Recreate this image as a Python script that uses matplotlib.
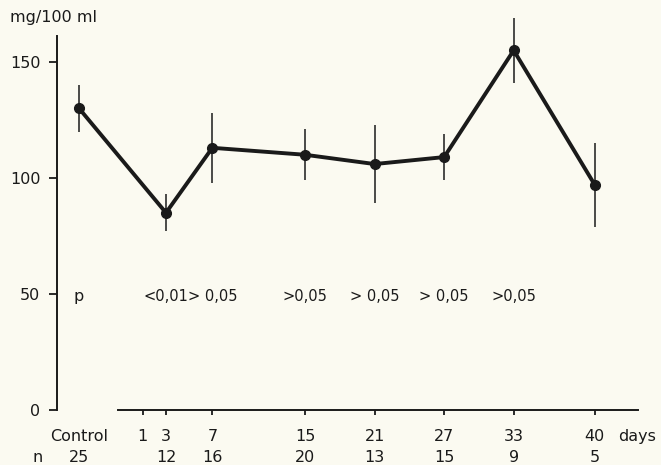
import matplotlib.pyplot as plt

# Serum level (mg/100 ml) over time after treatment, mean +/- SD
group_labels = ["Control", "3", "7", "15", "21", "27", "33", "40"]
day_values = [3, 7, 15, 21, 27, 33, 40]
control_mean = 130
control_sd = 10
means = [85, 113, 110, 106, 109, 155, 97]
sds = [8, 15, 11, 17, 10, 14, 18]
n_counts = ["25", "12", "16", "20", "13", "15", "9", "5"]
p_labels = ["<0,01", "> 0,05", ">0,05", "> 0,05", "> 0,05", ">0,05"]
axis_days = [1, 3, 7, 15, 21, 27, 33, 40]
y_ticks = [0, 50, 100, 150]

CONTROL_X = -4.5   # horizontal slot for the control group
YAXIS_X = -6.4
INK = "#1a1a1a"
BG = "#fbfaf1"

plt.rcParams["font.family"] = ["DejaVu Sans"]
FS = 11.5

fig = plt.figure(figsize=(6.61, 4.65), dpi=100, facecolor=BG)
ax = fig.add_axes([0, 0, 1, 1], facecolor=BG)
ax.set_xlim(-11.32, 45.71)
ax.set_ylim(-23.7, 176.7)

xs = [CONTROL_X] + day_values
ys = [control_mean] + means
es = [control_sd] + sds

ax.errorbar(xs, ys, yerr=es, fmt="none", ecolor=INK, elinewidth=1.1,
            capsize=0, zorder=2)
ax.plot(xs, ys, color=INK, lw=2.8, marker="o", ms=7, zorder=3,
        solid_joinstyle="round")

# axes
for s in ("top", "right"):
    ax.spines[s].set_visible(False)
ax.spines["left"].set_position(("data", YAXIS_X))
ax.spines["left"].set_bounds(0, 161)
ax.spines["left"].set_linewidth(1.4)
ax.spines["left"].set_color(INK)
ax.spines["bottom"].set_position(("data", 0))
ax.spines["bottom"].set_bounds(-1.15, 43.7)
ax.spines["bottom"].set_linewidth(1.4)
ax.spines["bottom"].set_color(INK)

ax.set_yticks(y_ticks)
ax.set_yticklabels([str(v) for v in y_ticks], fontsize=FS, color=INK)
ax.tick_params(axis="y", direction="out", length=6, width=1.3, pad=6,
               colors=INK)
ax.set_xticks(axis_days)
ax.set_xticklabels([])
ax.tick_params(axis="x", direction="out", length=3.5, width=1.3, colors=INK)

# day labels and group sizes
row_day = -11.3
row_n = -20.3
ax.text(CONTROL_X, row_day, "Control", ha="center", va="center",
        fontsize=FS, color=INK)
for d in axis_days:
    ax.text(d, row_day, str(d), ha="center", va="center", fontsize=FS,
            color=INK)
ax.text(42.0, row_day, "days", ha="left", va="center", fontsize=FS, color=INK)
ax.text(-8.1, row_n, "n", ha="center", va="center", fontsize=FS, color=INK)
for x, nv in zip(xs, n_counts):
    ax.text(x, row_n, nv, ha="center", va="center", fontsize=FS, color=INK)

# significance row
ax.text(CONTROL_X, 49, "p", ha="center", va="center", fontsize=FS, color=INK)
for d, p in zip(day_values[:-1], p_labels):
    ax.text(d, 49, p, ha="center", va="center", fontsize=10.5, color=INK)

ax.text(-10.5, 169, "mg/100 ml", ha="left", va="center", fontsize=FS,
        color=INK)

fig.savefig("out.png", dpi=100, facecolor=BG)
